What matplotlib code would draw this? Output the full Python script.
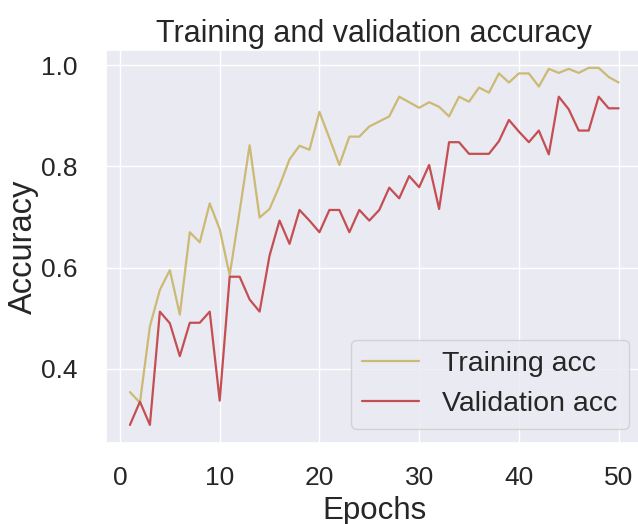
import matplotlib
matplotlib.use("Agg")
import matplotlib.pyplot as plt
import seaborn as sns

sns.set_theme(style="darkgrid", color_codes=True)
plt.rcParams['font.family'] = ['Liberation Sans', 'DejaVu Sans']

epochs = list(range(1, 51))
training_acc = [0.354, 0.333, 0.484, 0.556, 0.595, 0.507, 0.670, 0.650, 0.727, 0.676,
                0.585, 0.712, 0.842, 0.699, 0.716, 0.762, 0.814, 0.841, 0.833, 0.908,
                0.856, 0.803, 0.859, 0.859, 0.879, 0.889, 0.899, 0.938, 0.927, 0.916,
                0.927, 0.918, 0.899, 0.938, 0.928, 0.956, 0.946, 0.984, 0.966, 0.984,
                0.984, 0.958, 0.993, 0.985, 0.993, 0.985, 0.995, 0.995, 0.977, 0.966]
validation_acc = [0.289, 0.335, 0.289, 0.513, 0.490, 0.425, 0.491, 0.491, 0.513, 0.337,
                  0.582, 0.582, 0.537, 0.513, 0.624, 0.693, 0.647, 0.714, 0.693, 0.670,
                  0.714, 0.714, 0.670, 0.714, 0.693, 0.714, 0.758, 0.737, 0.781, 0.759,
                  0.803, 0.716, 0.848, 0.848, 0.825, 0.825, 0.825, 0.850, 0.892, 0.869,
                  0.848, 0.871, 0.824, 0.938, 0.913, 0.871, 0.871, 0.938, 0.915, 0.915]

title = "Training and validation accuracy"
xlabel = "Epochs"
ylabel = "Accuracy"
labels = ["Training acc", "Validation acc"]

fig = plt.figure(figsize=(6.38, 5.24), dpi=100)
ax = fig.add_axes([0.1654, 0.155, 0.8425, 0.7496])
ax.plot(epochs, training_acc, color='y', lw=1.6, label=labels[0])
ax.plot(epochs, validation_acc, color='r', lw=1.6, label=labels[1])
ax.set_title(title, fontsize=22, color='.15')
ax.set_xlabel(xlabel, fontsize=22.5, labelpad=4, color='.15')
ax.set_ylabel(ylabel, fontsize=23.5, labelpad=2, color='.15')
ax.set_xticks([0, 10, 20, 30, 40, 50])
ax.set_yticks([0.4, 0.6, 0.8, 1.0])
ax.tick_params(axis='x', labelsize=19, pad=11, labelcolor='.15')
ax.tick_params(axis='y', labelsize=19, pad=14, labelcolor='.15')
ax.legend(loc='lower right', fontsize=20.5)
fig.savefig("out.png", dpi=100)
